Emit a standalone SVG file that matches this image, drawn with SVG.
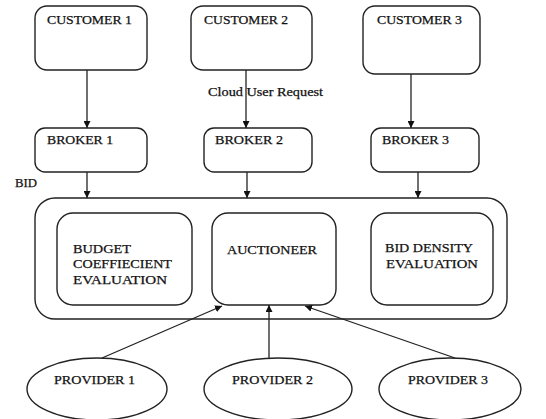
<svg xmlns="http://www.w3.org/2000/svg" width="546" height="419" viewBox="0 0 546 419">
<style>
.box{fill:#fff;stroke:#222;stroke-width:1.4}
.t{font-family:"Liberation Serif","Times New Roman",serif;font-size:13px;fill:#111;stroke:#111;stroke-width:0.25}
.s{font-size:12px}
.c{stroke:#222;stroke-width:1.3;fill:none;marker-end:url(#ah)}
</style>
<defs>
<marker id="ah" viewBox="0 0 10 10" refX="10" refY="5" markerWidth="7" markerHeight="7" markerUnits="userSpaceOnUse" orient="auto">
<path d="M0,0 L10,5 L0,10 z" fill="#111"/>
</marker>
</defs>
<rect width="546" height="419" fill="#fff"/>
<g id="customer1"><rect class="box" x="35" y="6" width="112" height="64" rx="12"/><text class="t" x="47" y="24" textLength="85" lengthAdjust="spacingAndGlyphs">CUSTOMER 1</text></g>
<g id="customer2"><rect class="box" x="191" y="6" width="121" height="64" rx="12"/><text class="t" x="204" y="24" textLength="84" lengthAdjust="spacingAndGlyphs">CUSTOMER 2</text></g>
<g id="customer3"><rect class="box" x="363" y="6" width="117" height="68" rx="12"/><text class="t" x="377" y="24" textLength="85" lengthAdjust="spacingAndGlyphs">CUSTOMER 3</text></g>
<g id="broker1"><rect class="box" x="35" y="128" width="112" height="44" rx="10"/><text class="t" x="47" y="144" textLength="66" lengthAdjust="spacingAndGlyphs">BROKER 1</text></g>
<g id="broker2"><rect class="box" x="204" y="128" width="108" height="44" rx="10"/><text class="t" x="215" y="144" textLength="68" lengthAdjust="spacingAndGlyphs">BROKER 2</text></g>
<g id="broker3"><rect class="box" x="371" y="128" width="108" height="44" rx="10"/><text class="t" x="382" y="144" textLength="67" lengthAdjust="spacingAndGlyphs">BROKER 3</text></g>
<g id="bid-label"><text class="t" x="15" y="187" textLength="22" lengthAdjust="spacingAndGlyphs">BID</text></g>
<g id="container"><rect class="box" x="35" y="198" width="472" height="121" rx="20"/></g>
<g id="budget"><rect class="box" x="57" y="213" width="135" height="92" rx="16"/><text class="t" x="73" y="253" textLength="58" lengthAdjust="spacingAndGlyphs">BUDGET</text><text class="t" x="73" y="268" textLength="99" lengthAdjust="spacingAndGlyphs">COEFFIECIENT</text><text class="t" x="73" y="284" textLength="94" lengthAdjust="spacingAndGlyphs">EVALUATION</text></g>
<g id="auctioneer"><rect class="box" x="212" y="213" width="124" height="92" rx="16"/><text class="t" x="227" y="254" textLength="90" lengthAdjust="spacingAndGlyphs">AUCTIONEER</text></g>
<g id="biddensity"><rect class="box" x="371" y="213" width="122" height="92" rx="16"/><text class="t" x="385" y="252" textLength="88" lengthAdjust="spacingAndGlyphs">BID DENSITY</text><text class="t" x="386" y="268" textLength="92" lengthAdjust="spacingAndGlyphs">EVALUATION</text></g>
<g id="provider1"><ellipse class="box" cx="97" cy="389" rx="70" ry="31"/><text class="t" x="54" y="384" textLength="81" lengthAdjust="spacingAndGlyphs">PROVIDER 1</text></g>
<g id="provider2"><ellipse class="box" cx="278" cy="389" rx="74" ry="31"/><text class="t" x="232" y="384" textLength="81" lengthAdjust="spacingAndGlyphs">PROVIDER 2</text></g>
<g id="provider3"><ellipse class="box" cx="450" cy="389" rx="71" ry="31"/><text class="t" x="408" y="384" textLength="80" lengthAdjust="spacingAndGlyphs">PROVIDER 3</text></g>
<g id="connectors">
<line class="c" x1="87" y1="70" x2="87" y2="128"/>
<line class="c" x1="246" y1="70" x2="246" y2="128"/>
<line class="c" x1="411" y1="74" x2="411" y2="128"/>
<line class="c" x1="87" y1="172" x2="87" y2="198"/>
<line class="c" x1="247" y1="172" x2="247" y2="198"/>
<line class="c" x1="418" y1="172" x2="418" y2="198"/>
<line class="c" x1="102" y1="358" x2="222" y2="306"/>
<line class="c" x1="269" y1="358" x2="269" y2="305"/>
<line class="c" x1="455" y1="358" x2="305" y2="306"/>
</g>
<text class="t s" x="208" y="96" textLength="115" lengthAdjust="spacingAndGlyphs">Cloud User Request</text>
</svg>
